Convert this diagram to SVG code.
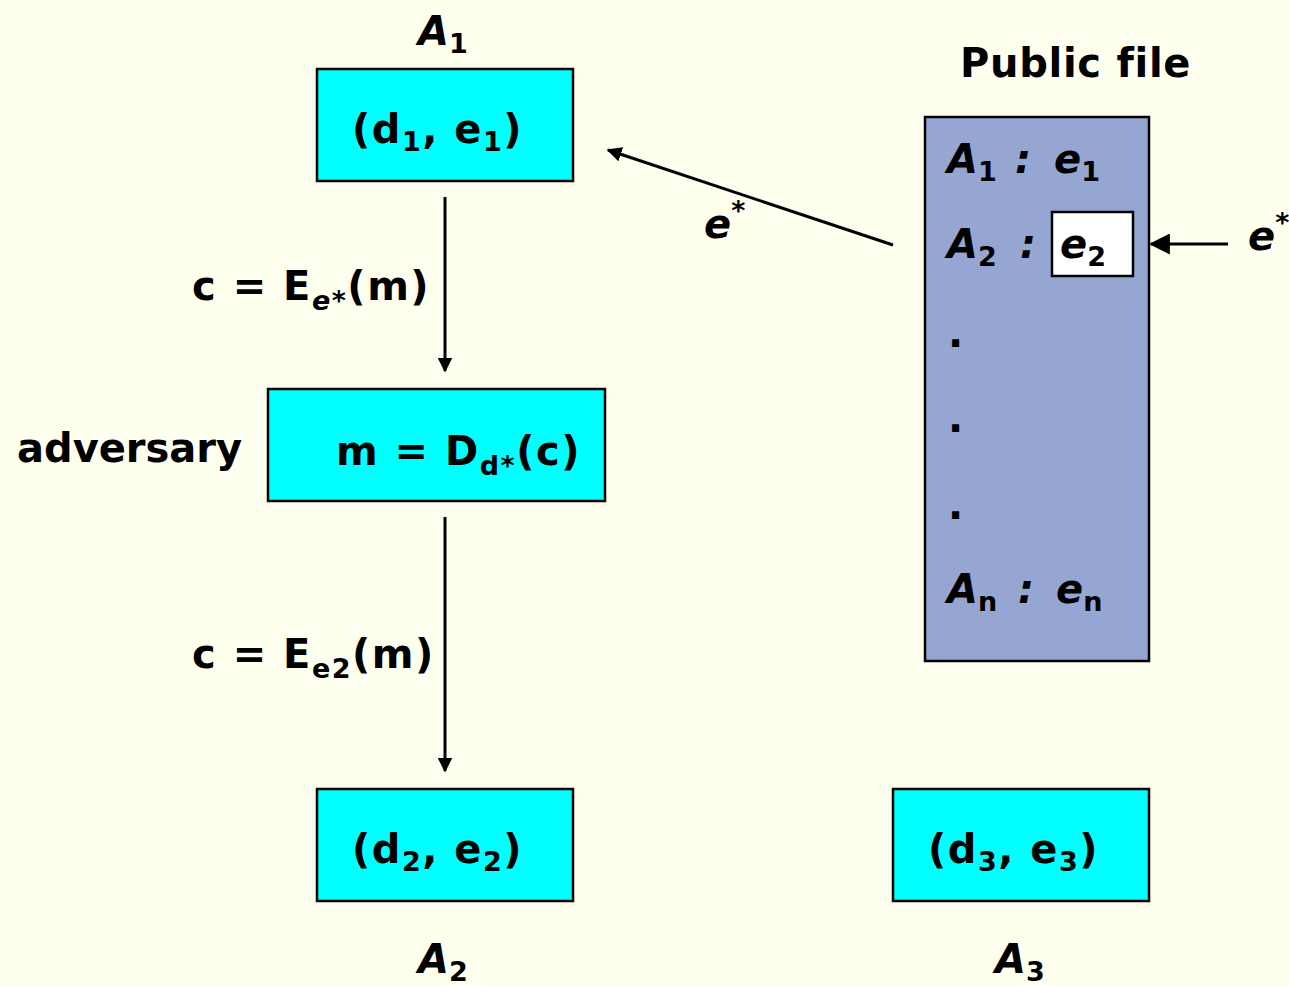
<svg xmlns="http://www.w3.org/2000/svg" width="1289" height="986" viewBox="0 0 1289 986">
<defs>
<style>
.t{font-family:"DejaVu Sans","Noto Sans",sans-serif;font-weight:bold;font-size:40px;fill:#000}
.i{font-style:italic}
.n{font-style:normal}
.w{letter-spacing:1.5px}
.s{font-size:27px}
.box{fill:#00FFFF;stroke:#000;stroke-width:2.5}
.ln{stroke:#000;stroke-width:3;fill:none}
</style>
<marker id="ah" viewBox="0 0 10 10" refX="9" refY="5" markerWidth="5" markerHeight="5" orient="auto" markerUnits="strokeWidth">
<path d="M0,0 L10,5 L0,10 z" fill="#000"/>
</marker>
<marker id="ah2" viewBox="0 0 10 10" refX="9" refY="5" markerWidth="7" markerHeight="7" orient="auto" markerUnits="strokeWidth">
<path d="M0,0 L10,5 L0,10 z" fill="#000"/>
</marker>
</defs>
<rect width="1289" height="986" fill="#FFFFF0"/>

<g id="connectors">
<line class="ln" x1="445" y1="197" x2="445" y2="371" marker-end="url(#ah)"/>
<line class="ln" x1="445" y1="517" x2="445" y2="771" marker-end="url(#ah)"/>
<line class="ln" x1="893" y1="245" x2="608" y2="150" marker-end="url(#ah)" stroke-width="4"/>
<line class="ln" x1="1228" y1="244" x2="1151" y2="244" stroke-width="2" marker-end="url(#ah2)"/>
<text class="t w"><tspan x="192" y="300">c = E</tspan><tspan class="s i" dy="10">e*</tspan><tspan dy="-10">(m)</tspan></text>
<text class="t w"><tspan x="192" y="668">c = E</tspan><tspan class="s" dy="10">e2</tspan><tspan dy="-10">(m)</tspan></text>
<text class="t i" x="704" y="238">e<tspan class="s n" dy="-18">*</tspan></text>
<text class="t i" x="1248" y="250">e<tspan class="s n" dy="-18">*</tspan></text>
</g>

<g id="A1">
<rect class="box" x="317" y="69" width="256" height="112"/>
<text class="t w" x="352" y="143">(d<tspan class="s" dy="8">1</tspan><tspan dy="-8">, e</tspan><tspan class="s" dy="8">1</tspan><tspan dy="-8">)</tspan></text>
<text class="t i" x="418" y="45">A<tspan class="s n" dy="8">1</tspan></text>
</g>

<g id="adversary">
<rect class="box" x="268" y="389" width="337" height="112"/>
<text class="t w" x="336" y="465">m = D<tspan class="s" dy="10">d*</tspan><tspan dy="-10">(c)</tspan></text>
<text class="t" x="17" y="462">adversary</text>
</g>

<g id="A2">
<rect class="box" x="317" y="789" width="256" height="112"/>
<text class="t w" x="352" y="863">(d<tspan class="s" dy="8">2</tspan><tspan dy="-8">, e</tspan><tspan class="s" dy="8">2</tspan><tspan dy="-8">)</tspan></text>
<text class="t i" x="418" y="973">A<tspan class="s n" dy="8">2</tspan></text>
</g>

<g id="A3">
<rect class="box" x="893" y="789" width="256" height="112"/>
<text class="t w" x="928" y="863">(d<tspan class="s" dy="8">3</tspan><tspan dy="-8">, e</tspan><tspan class="s" dy="8">3</tspan><tspan dy="-8">)</tspan></text>
<text class="t i" x="995" y="973">A<tspan class="s n" dy="8">3</tspan></text>
</g>

<g id="publicfile">
<text class="t" x="960" y="77" style="letter-spacing:0.7px">Public file</text>
<rect x="925" y="117" width="224" height="544" fill="#96A6D2" stroke="#000" stroke-width="2.5"/>
<rect x="1052" y="212" width="81" height="64" fill="#FFFFFF" stroke="#000" stroke-width="2.5"/>
<text class="t i" x="947" y="173">A<tspan class="s n" dy="8">1</tspan><tspan dy="-8" x="1015">:</tspan><tspan x="1054">e</tspan><tspan class="s n" dy="8">1</tspan></text>
<text class="t i" x="947" y="258">A<tspan class="s n" dy="8">2</tspan><tspan dy="-8" x="1020">:</tspan><tspan x="1060">e</tspan><tspan class="s n" dy="8">2</tspan></text>
<text class="t" x="948" y="347">.</text>
<text class="t" x="948" y="432">.</text>
<text class="t" x="948" y="519">.</text>
<text class="t i" x="947" y="603">A<tspan class="s n" dy="8">n</tspan><tspan dy="-8" x="1018">:</tspan><tspan x="1056">e</tspan><tspan class="s n" dy="8">n</tspan></text>
</g>
</svg>
